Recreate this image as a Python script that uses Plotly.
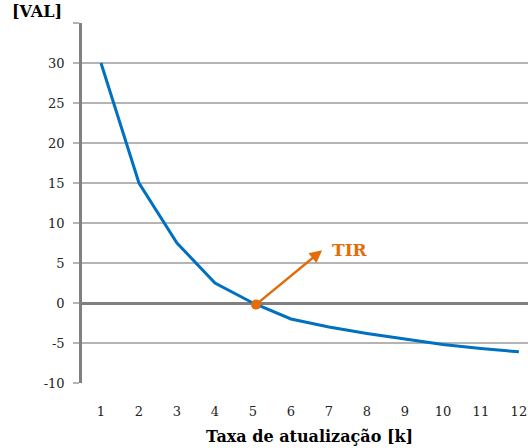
import plotly.graph_objects as go

# Discount rates (k) and corresponding net present values
taxa = [1, 2, 3, 4, 5, 6, 7, 8, 9, 10, 11, 12]
val = [30, 15, 7.5, 2.5, 0, -2, -3, -3.8, -4.5, -5.2, -5.7, -6.1]

# Internal rate of return point and arrow tip
tir_x = 5.08
tir_y = -0.2
seta_x = 6.82
seta_y = 6.6

y_ticks = [-10, -5, 0, 5, 10, 15, 20, 25, 30, 35]
y_labels = ["-10", "-5", "0", "5", "10", "15", "20", "25", "30", ""]

azul = "#0070C0"
laranja = "#E36C09"
fonte = "DejaVu Serif, Liberation Serif, serif"

fig = go.Figure()
fig.add_trace(go.Scatter(
    x=taxa, y=val, mode="lines",
    line=dict(color=azul, width=3),
    hoverinfo="skip", showlegend=False,
))
fig.add_trace(go.Scatter(
    x=[tir_x], y=[tir_y], mode="markers",
    marker=dict(color=laranja, size=10),
    hoverinfo="skip", showlegend=False,
))

fig.add_annotation(
    x=seta_x, y=seta_y, ax=tir_x, ay=tir_y,
    xref="x", yref="y", axref="x", ayref="y",
    text="", showarrow=True,
    arrowhead=2, arrowsize=1, arrowwidth=2.5, arrowcolor=laranja,
)
fig.add_annotation(
    x=seta_x + 0.2, y=seta_y, xref="x", yref="y",
    text="<b>TIR</b>", showarrow=False, xanchor="left", yanchor="middle",
    font=dict(family=fonte, size=17, color=laranja),
)

fig.add_annotation(
    x=-0.1, y=1.0, xref="paper", yref="paper",
    text="<b>[VAL]</b>", showarrow=False, xanchor="center", yanchor="bottom",
    font=dict(family=fonte, size=16, color="#000000"),
)
fig.add_annotation(
    x=0.51, y=-0.15, xref="paper", yref="paper",
    text="<b>Taxa de atualização [k]</b>", showarrow=False,
    xanchor="center", yanchor="middle",
    font=dict(family=fonte, size=16, color="#000000"),
)

fig.update_layout(
    width=528, height=448,
    margin=dict(l=82, r=0, t=23, b=65),
    plot_bgcolor="white", paper_bgcolor="white",
    font=dict(family=fonte, size=13, color="#222222"),
)
fig.update_xaxes(
    range=[0.5, 12.24], tickmode="array", tickvals=taxa,
    showgrid=False, zeroline=False, showline=False,
    ticks="outside", ticklen=16, tickcolor="rgba(0,0,0,0)",
    tickfont=dict(family=fonte, size=13, color="#222222"),
)
fig.update_yaxes(
    range=[-10, 35], tickmode="array", tickvals=y_ticks, ticktext=y_labels,
    showgrid=True, gridcolor="#B4B4B4", gridwidth=1.5,
    zeroline=True, zerolinecolor="#808080", zerolinewidth=2.5,
    showline=True, linecolor="#808080", linewidth=2.5,
    ticks="outside", ticklen=6, tickcolor="#B4B4B4", tickwidth=1.5,
    ticklabelstandoff=6,
    tickfont=dict(family=fonte, size=13, color="#222222"),
)

fig.write_html("out.html")
